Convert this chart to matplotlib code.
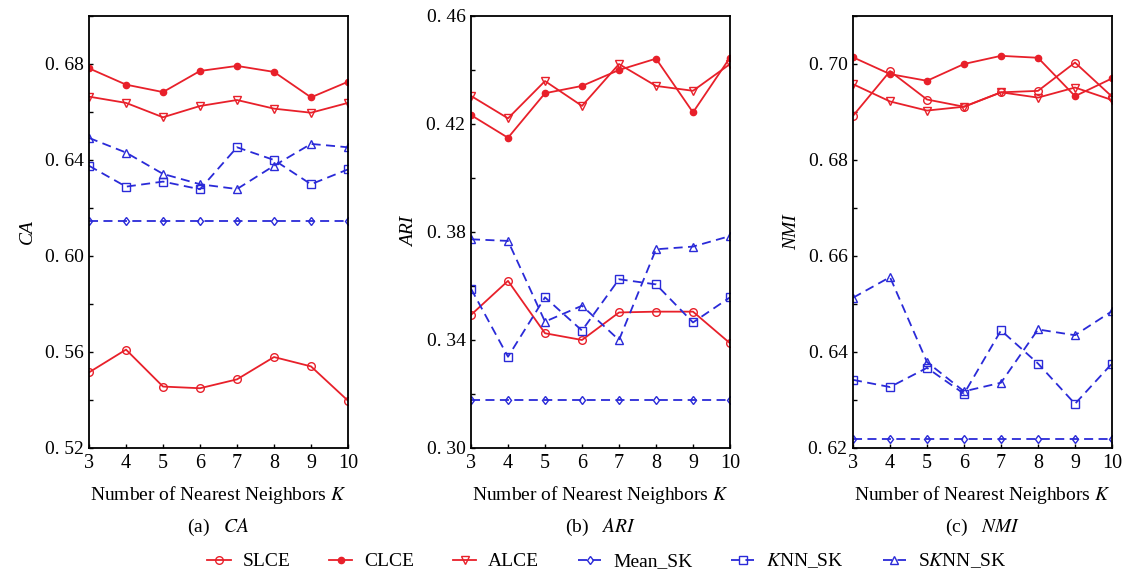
import matplotlib
matplotlib.use("Agg")
import matplotlib.pyplot as plt
from matplotlib.ticker import MultipleLocator

plt.rcParams['font.family'] = ['Liberation Serif', 'DejaVu Serif']
plt.rcParams['mathtext.fontset'] = 'stix'

K = [3, 4, 5, 6, 7, 8, 9, 10]
series_names = ["SLCE", "CLCE", "ALCE", "Mean_SK", "$K$NN_SK", "S$K$NN_SK"]

# (a) CA
ca_slce = [0.5515, 0.5610, 0.5456, 0.5449, 0.5486, 0.5579, 0.5540, 0.5397]
ca_clce = [0.6782, 0.6714, 0.6683, 0.6771, 0.6792, 0.6767, 0.6661, 0.6726]
ca_alce = [0.6664, 0.6638, 0.6578, 0.6625, 0.6650, 0.6614, 0.6597, 0.6638]
ca_mean = [0.6147, 0.6147, 0.6147, 0.6147, 0.6147, 0.6147, 0.6147, 0.6147]
ca_knn = [0.6376, 0.6289, 0.6310, 0.6278, 0.6453, 0.6400, 0.6299, 0.6361]
ca_sknn = [0.6492, 0.6431, 0.6342, 0.6299, 0.6279, 0.6376, 0.6467, 0.6453]

# (b) ARI
ari_slce = [0.3493, 0.3619, 0.3425, 0.3400, 0.3502, 0.3505, 0.3505, 0.3388]
ari_clce = [0.4233, 0.4149, 0.4314, 0.4341, 0.4400, 0.4442, 0.4243, 0.4446]
ari_alce = [0.4304, 0.4221, 0.4359, 0.4267, 0.4422, 0.4341, 0.4323, 0.4422]
ari_mean = [0.3179, 0.3179, 0.3179, 0.3179, 0.3179, 0.3179, 0.3179, 0.3179]
ari_knn = [0.3590, 0.3338, 0.3558, 0.3435, 0.3625, 0.3606, 0.3465, 0.3558]
ari_sknn = [0.3773, 0.3767, 0.3468, 0.3527, 0.3400, 0.3736, 0.3746, 0.3785]

# (c) NMI
nmi_slce = [0.6892, 0.6985, 0.6926, 0.6911, 0.6941, 0.6944, 0.7003, 0.6932]
nmi_clce = [0.7014, 0.6979, 0.6965, 0.7000, 0.7017, 0.7013, 0.6933, 0.6970]
nmi_alce = [0.6958, 0.6922, 0.6903, 0.6911, 0.6941, 0.6930, 0.6951, 0.6925]
nmi_mean = [0.6219, 0.6219, 0.6219, 0.6219, 0.6219, 0.6219, 0.6219, 0.6219]
nmi_knn = [0.6342, 0.6327, 0.6367, 0.6313, 0.6445, 0.6376, 0.6292, 0.6376]
nmi_sknn = [0.6513, 0.6556, 0.6379, 0.6318, 0.6336, 0.6447, 0.6435, 0.6485]

panels = [
    ("CA", "(a)", [ca_slce, ca_clce, ca_alce, ca_mean, ca_knn, ca_sknn],
     (0.52, 0.70), [0.52, 0.56, 0.60, 0.64, 0.68], 0.02),
    ("ARI", "(b)", [ari_slce, ari_clce, ari_alce, ari_mean, ari_knn, ari_sknn],
     (0.30, 0.46), [0.30, 0.34, 0.38, 0.42, 0.46], 0.02),
    ("NMI", "(c)", [nmi_slce, nmi_clce, nmi_alce, nmi_mean, nmi_knn, nmi_sknn],
     (0.62, 0.71), [0.62, 0.64, 0.66, 0.68, 0.70], 0.01),
]

RED = "#e8202a"
BLUE = "#2a2ad8"
styles = [
    dict(color=RED, linestyle="-", marker="o", mfc="none", mec=RED),
    dict(color=RED, linestyle="-", marker="o", mfc=RED, mec=RED, markersize=4.5),
    dict(color=RED, linestyle="-", marker="v", mfc="none", mec=RED),
    dict(color=BLUE, linestyle=(0, (5, 3)), marker="d", mfc="none", mec=BLUE, markersize=4.5),
    dict(color=BLUE, linestyle=(0, (5, 3)), marker="s", mfc="none", mec=BLUE),
    dict(color=BLUE, linestyle=(0, (5, 3)), marker="^", mfc="none", mec=BLUE),
]

fig = plt.figure(figsize=(11.3, 5.76), dpi=100)
lefts = [89, 471, 853]
W, H = 1130, 576
handles = []
for i, (name, tag, data, ylim, yt, minor) in enumerate(panels):
    ax = fig.add_axes([lefts[i] / W, (576 - 448) / H, 259 / W, 432 / H])
    for j, vals in enumerate(data):
        st = dict(markersize=5.5, linewidth=1.3, markeredgewidth=1.0)
        st.update(styles[j])
        ln, = ax.plot(K, vals, label=series_names[j], **st)
        if i == 0:
            handles.append(ln)
    ax.set_xlim(3, 10)
    ax.set_ylim(*ylim)
    ax.set_xticks(K)
    ax.set_yticks(yt)
    ax.set_yticklabels([("%.2f" % v).replace(".", ". ") for v in yt])
    ax.yaxis.set_minor_locator(MultipleLocator(minor))
    ax.tick_params(axis="both", which="both", direction="in", length=3, width=1,
                   labelsize=14, pad=4)
    ax.tick_params(axis="x", labelsize=14.5)
    for sp in ax.spines.values():
        sp.set_linewidth(1.3)
    ax.set_ylabel(name, fontsize=14, style="italic", labelpad=6)
    ax.set_xlabel("Number of Nearest Neighbors $K$", fontsize=14, labelpad=8)
    ax.text(0.5, -0.185, tag + "   " + "$" + name + "$", transform=ax.transAxes,
            ha="center", va="center", fontsize=14)

fig.legend(handles=handles, labels=series_names, loc="center",
           bbox_to_anchor=(0.537, 1 - 561 / H), ncol=6, frameon=False,
           fontsize=14, handlelength=1.2, columnspacing=2.0, handletextpad=0.6)

fig.savefig("out.png", dpi=100)
